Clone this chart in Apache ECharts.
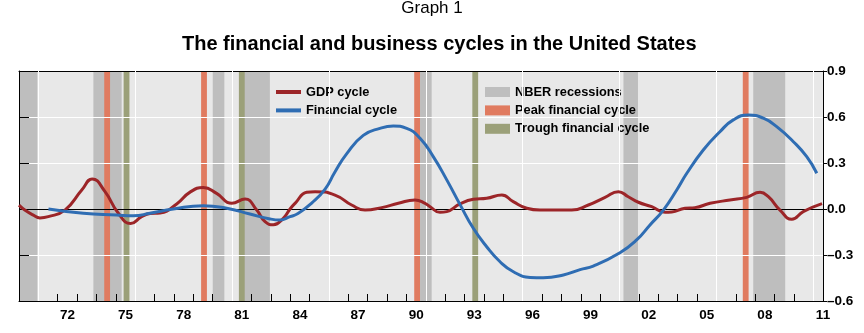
<!DOCTYPE html>
<html>
<head>
<meta charset="utf-8">
<script src="https://cdn.jsdelivr.net/npm/echarts@6/dist/echarts.min.js"></script>
<style>
  html, body { margin: 0; padding: 0; background: #fff; }
  #chart { width: 864px; height: 333px; }
</style>
</head>
<body>
<div id="chart"></div>
<script>
// GDP cycle, by fractional year
const gdpYears = [1970.0, 1970.3, 1970.74, 1971.08, 1971.51, 1972.37, 1973.24, 1973.78, 1974.44, 1975.13,
  1975.76, 1976.33, 1976.76, 1977.28, 1978.14, 1978.83, 1979.51, 1980.2, 1980.98, 1981.67,
  1982.27, 1982.7, 1983.13, 1983.64, 1983.99, 1984.25, 1984.85, 1985.28, 1986.31, 1987.17,
  1987.86, 1988.72, 1989.58, 1990.44, 1990.96, 1991.22, 1991.73, 1992.08, 1992.76, 1993.45,
  1994.14, 1994.92, 1995.51, 1996.21, 1996.89, 1997.93, 1998.53, 1999.39, 2000.25, 2000.94,
  2001.45, 2001.97, 2002.66, 2003.35, 2003.69, 2004.38, 2004.89, 2005.67, 2006.7, 2007.56,
  2008.25, 2008.68, 2009.28, 2009.89, 2010.48, 2011.45];
const gdpValues = [0.025, -0.007, -0.04, -0.058, -0.05, -0.007, 0.124, 0.196, 0.113, -0.028,
  -0.095, -0.05, -0.03, -0.026, 0.033, 0.11, 0.14, 0.102, 0.037, 0.065,
  -0.007, -0.083, -0.103, -0.061, 0.0, 0.037, 0.109, 0.113, 0.091, 0.026,
  -0.007, 0.009, 0.037, 0.059, 0.037, 0.015, -0.022, -0.017, 0.033, 0.063,
  0.07, 0.091, 0.048, 0.005, -0.007, -0.007, -0.007, 0.026, 0.076, 0.113,
  0.08, 0.044, 0.015, -0.022, -0.02, 0.005, 0.009, 0.037, 0.059, 0.076,
  0.109, 0.08, -0.007, -0.067, -0.017, 0.035];

// Financial cycle, by fractional year
const finYears = [1971.52, 1973.32, 1975.04, 1975.9, 1976.76, 1977.96, 1979.51, 1980.72, 1981.92, 1982.96,
  1983.47, 1983.99, 1984.4, 1985.12, 1985.8, 1986.3, 1986.91, 1987.77, 1988.63, 1989.32,
  1990.01, 1990.7, 1991.39, 1992.08, 1992.76, 1993.45, 1994.14, 1994.83, 1995.52, 1996.38,
  1997.06, 1998.1, 1998.96, 1999.64, 2001.02, 2001.88, 2002.57, 2003.26, 2003.95, 2004.47,
  2005.32, 2006.18, 2006.87, 2007.64, 2008.42, 2009.11, 2009.97, 2010.66, 2011.18];
const finValues = [0.0, -0.028, -0.039, -0.044, -0.028, 0.0, 0.022, 0.005, -0.033, -0.065,
  -0.072, -0.05, -0.03, 0.04, 0.13, 0.24, 0.36, 0.48, 0.526, 0.541,
  0.526, 0.461, 0.34, 0.19, 0.03, -0.126, -0.246, -0.344, -0.409, -0.446,
  -0.448, -0.43, -0.395, -0.372, -0.285, -0.202, -0.104, -0.007, 0.124, 0.233,
  0.385, 0.504, 0.581, 0.613, 0.592, 0.537, 0.439, 0.341, 0.233];

// Shaded periods: [start, end]
const recessions = [[1970.0, 1970.95], [1973.84, 1975.3], [1980.0, 1980.6], [1981.5, 1982.95],
  [1990.7, 1991.3], [2001.2, 2001.95], [2007.9, 2009.55]];
const peaks = [[1974.4, 1974.7], [1979.4, 1979.7], [1990.4, 1990.7], [2007.36, 2007.66]];
const troughs = [[1975.4, 1975.7], [1981.35, 1981.65], [1993.4, 1993.7]];

// Axis marks
const yearTicks = [];
for (let y = 1970; y <= 2011; y++) yearTicks.push(y);
const gridYears = [1971, 1976, 1981, 1986, 1991, 1996, 2001, 2006, 2011];
const labelYears = [1972, 1975, 1978, 1981, 1984, 1987, 1990, 1993, 1996, 1999, 2002, 2005, 2008, 2011];

const FONT = 'Arial, "Liberation Sans", Helvetica, sans-serif';
const PLOT_BG = '#e8e8e8';
const X_MIN = 1970, X_MAX = 2011.5;

function periodBars(params, api) {
  const x0 = api.coord([api.value(0), 0])[0];
  const x1 = api.coord([api.value(1), 0])[0];
  const cs = params.coordSys;
  return {
    type: 'rect',
    shape: { x: x0, y: cs.y, width: x1 - x0, height: cs.height },
    style: { fill: api.visual('color') }
  };
}

function barSeries(name, data, color) {
  return {
    name, type: 'custom', renderItem: periodBars, data,
    encode: { x: [0, 1] }, itemStyle: { color }, z: 1, silent: true
  };
}

const chart = echarts.init(document.getElementById('chart'), null, { renderer: 'canvas' });

const legendText = { fontFamily: FONT, fontSize: 12.8, fontWeight: 'bold', color: '#000', lineHeight: 14 };

chart.setOption({
  animation: false,
  backgroundColor: '#fff',
  title: [
    { text: 'Graph 1', left: 'center', top: -5,
      textStyle: { fontFamily: FONT, fontSize: 17, fontWeight: 'normal', color: '#000' } },
    { text: 'The financial and business cycles in the United States', left: 177, top: 29,
      textStyle: { fontFamily: FONT, fontSize: 20, fontWeight: 'bold', color: '#000' } }
  ],
  grid: { left: 19, right: 41, top: 71, bottom: 32, containLabel: false, show: true,
    backgroundColor: PLOT_BG, borderWidth: 0 },
  legend: [
    { data: ['GDP cycle', 'Financial cycle'], orient: 'vertical', left: 276, top: 85, padding: 0,
      icon: 'rect', itemWidth: 25, itemHeight: 4, itemGap: 4.4,
      textStyle: Object.assign({ backgroundColor: PLOT_BG }, legendText) },
    { data: ['NBER recessions', 'Peak financial cycle', 'Trough financial cycle'], orient: 'vertical',
      left: 485, top: 85, padding: 0, icon: 'rect', itemWidth: 25, itemHeight: 10, itemGap: 4.4,
      textStyle: legendText }
  ],
  xAxis: [
    { type: 'value', min: X_MIN, max: X_MAX, position: 'bottom', z: 3,
      axisLine: { show: true, onZero: false, lineStyle: { color: '#000', width: 1 } },
      axisTick: { show: true, inside: true, length: 7, customValues: yearTicks, lineStyle: { color: '#000' } },
      axisLabel: { show: true, customValues: labelYears.map(y => y + 0.5), margin: 7,
        formatter: v => String(Math.floor(v) % 100).padStart(2, '0'),
        fontFamily: FONT, fontSize: 13.5, fontWeight: 'bold', color: '#000' },
      splitLine: { show: false } },
    { type: 'value', min: X_MIN, max: X_MAX, position: 'bottom', z: 3,
      axisLine: { show: false, onZero: false },
      axisTick: { show: true, inside: true, length: 15, customValues: gridYears, lineStyle: { color: '#000' } },
      axisLabel: { show: false }, splitLine: { show: false } },
    { type: 'value', min: X_MIN, max: X_MAX, position: 'top', z: 3,
      axisLine: { show: true, onZero: false, lineStyle: { color: '#000', width: 1 } },
      axisTick: { show: false }, axisLabel: { show: false }, splitLine: { show: false } }
  ],
  yAxis: [
    { type: 'value', min: -0.6, max: 0.9, interval: 0.3, position: 'right', z: 3,
      axisLine: { show: true, onZero: false, lineStyle: { color: '#000', width: 1 } },
      axisTick: { show: true, inside: false, length: 4, lineStyle: { color: '#000' } },
      axisLabel: { margin: 4, fontFamily: FONT, fontSize: 13.5, fontWeight: 'bold', color: '#000',
        formatter: v => (v < 0 ? '\u2013' : '') + Math.abs(v).toFixed(1) },
      splitLine: { show: true, lineStyle: { color: '#fff', width: 1 } } },
    { type: 'value', min: -0.6, max: 0.9, interval: 0.3, position: 'left', z: 3,
      axisLine: { show: true, onZero: false, lineStyle: { color: '#000', width: 1 } },
      axisTick: { show: true, inside: true, length: 10, lineStyle: { color: '#000' } },
      axisLabel: { show: false }, splitLine: { show: false } }
  ],
  series: [
    barSeries('NBER recessions', recessions, '#bebebe'),
    barSeries('Peak financial cycle', peaks, '#e07b60'),
    barSeries('Trough financial cycle', troughs, '#9ba079'),
    // vertical white gridlines every five years, drawn above the shaded periods
    { name: 'yearGrid', type: 'line', data: [], z: 2, silent: true,
      markLine: { symbol: 'none', silent: true, label: { show: false },
        lineStyle: { color: '#fff', width: 1, type: 'solid' },
        data: gridYears.map(y => ({ xAxis: y })) } },
    // zero line
    { name: 'zero', type: 'line', data: [], z: 4, silent: true,
      markLine: { symbol: 'none', silent: true, label: { show: false },
        lineStyle: { color: '#000', width: 1, type: 'solid' }, data: [{ yAxis: 0 }] } },
    { name: 'GDP cycle', type: 'line', z: 5, smooth: 0.5, showSymbol: false,
      data: gdpYears.map((y, i) => [y, gdpValues[i]]),
      lineStyle: { color: '#9c2528', width: 3 }, itemStyle: { color: '#9c2528' } },
    { name: 'Financial cycle', type: 'line', z: 5, smooth: 0.5, showSymbol: false,
      data: finYears.map((y, i) => [y, finValues[i]]),
      lineStyle: { color: '#2f6db3', width: 3 }, itemStyle: { color: '#2f6db3' } }
  ]
});
</script>
</body>
</html>
